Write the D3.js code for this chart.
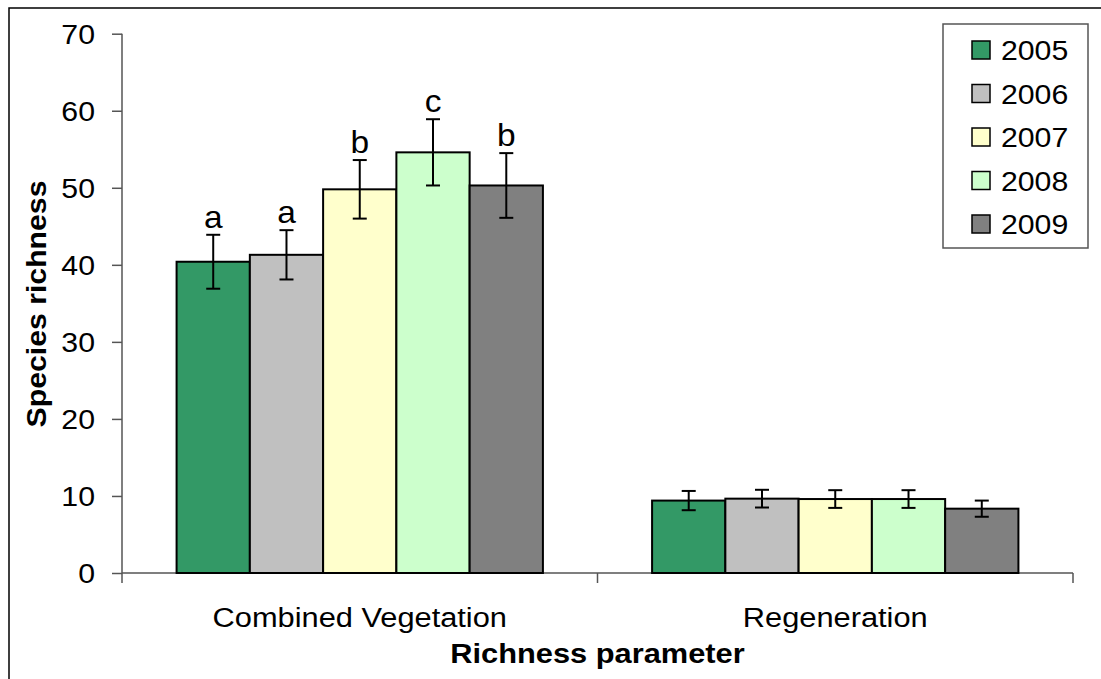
<!DOCTYPE html>
<html lang="en">
  <head>
    <meta charset="utf-8">
    <title>Species richness by year</title>
    <script type="text/javascript" src="https://cdn.jsdelivr.net/npm/d3@7"></script>
    <style type="text/css">
      body { margin: 0; background: #fff; }
      text { font-family: Arial, "Liberation Sans", sans-serif; fill: #000; }
    </style>
  </head>
  <body>
    <script type="text/javascript">

      //Width and height
      var w = 1101;
      var h = 679;

      //Data
      var categories = ["Combined Vegetation", "Regeneration"];
      var years = ["2005", "2006", "2007", "2008", "2009"];
      var colors = ["#339966", "#C0C0C0", "#FFFFCC", "#CCFFCC", "#808080"];
      var combinedMeans = [40.4, 41.3, 49.8, 54.6, 50.3];
      var combinedErr = [3.5, 3.2, 3.8, 4.3, 4.2];
      var regenMeans = [9.4, 9.65, 9.6, 9.6, 8.35];
      var regenErr = [1.25, 1.15, 1.15, 1.15, 1.05];
      var combinedLetters = ["a", "a", "b", "c", "b"];
      var yTicks = [0, 10, 20, 30, 40, 50, 60, 70];

      var margin = { left: 122, right: 1073, top: 33.7, bottom: 573 };
      var sx = 1.08; //text is a little wider than it is tall

      //flatten into rows for drawing
      var rows = [];
      categories.forEach(function(c, ci) {
        var means = ci === 0 ? combinedMeans : regenMeans;
        var errs = ci === 0 ? combinedErr : regenErr;
        years.forEach(function(y, yi) {
          rows.push({ cat: c, year: y, value: means[yi], err: errs[yi],
                      letter: ci === 0 ? combinedLetters[yi] : null });
        });
      });

      var svg = d3.select("body")
                  .append("svg")
                  .attr("width", w)
                  .attr("height", h);

      //outer frame
      svg.append("rect")
         .attr("x", 9).attr("y", 8)
         .attr("width", w + 20).attr("height", h + 20)
         .attr("fill", "none")
         .attr("stroke", "#000")
         .attr("stroke-width", 1.5);

      var x0 = d3.scaleBand()
                 .domain(categories)
                 .range([margin.left, margin.right]);

      var x1 = d3.scaleBand()
                 .domain(years)
                 .range([0, x0.bandwidth()])
                 .paddingInner(0)
                 .paddingOuter(0.745);

      var y = d3.scaleLinear()
                .domain([0, 70])
                .range([margin.bottom, margin.top]);

      var color = d3.scaleOrdinal().domain(years).range(colors);

      function place(sel, px, py, s) {
        sel.attr("x", 0).attr("y", 0)
           .attr("transform", "translate(" + px + "," + py + ") scale(" + (s || sx) + ",1)");
      }

      //y axis
      var yAxis = d3.axisLeft(y).tickValues(yTicks).tickSize(10).tickPadding(0);
      var gy = svg.append("g")
                  .attr("transform", "translate(" + margin.left + ",0)")
                  .call(yAxis);
      gy.select(".domain").attr("stroke", "#555").attr("stroke-width", 1.5)
        .attr("d", "M0," + margin.top + "V" + (margin.bottom + 10));
      gy.selectAll(".tick line").attr("stroke", "#555").attr("stroke-width", 1.5);
      gy.selectAll(".tick text")
        .style("font-size", "28px")
        .attr("dy", "0.35em")
        .attr("text-anchor", "end")
        .attr("x", 0)
        .attr("transform", "translate(-27,0) scale(" + sx + ",1)");

      //x axis line with category dividers
      svg.append("line")
         .attr("x1", margin.left).attr("x2", margin.right)
         .attr("y1", y(0)).attr("y2", y(0))
         .attr("stroke", "#555").attr("stroke-width", 1.5);

      var dividers = categories.map(function(c) { return x0(c) + x0.bandwidth(); });
      svg.selectAll("line.div")
         .data(dividers)
         .enter()
         .append("line")
         .attr("class", "div")
         .attr("x1", function(d) { return d; })
         .attr("x2", function(d) { return d; })
         .attr("y1", y(0))
         .attr("y2", y(0) + 10)
         .attr("stroke", "#555").attr("stroke-width", 1.5);

      //bars
      svg.selectAll("rect.bar")
         .data(rows)
         .enter()
         .append("rect")
         .attr("class", "bar")
         .attr("x", function(d) { return x0(d.cat) + x1(d.year); })
         .attr("y", function(d) { return y(d.value); })
         .attr("width", x1.bandwidth())
         .attr("height", function(d) { return y(0) - y(d.value); })
         .attr("fill", function(d) { return color(d.year); })
         .attr("stroke", "#000")
         .attr("stroke-width", 2);

      //error bars
      var eb = svg.selectAll("g.err")
                  .data(rows)
                  .enter()
                  .append("g")
                  .attr("class", "err")
                  .attr("transform", function(d) {
                    return "translate(" + (x0(d.cat) + x1(d.year) + x1.bandwidth() / 2) + ",0)";
                  });

      eb.append("line")
        .attr("y1", function(d) { return y(d.value + d.err); })
        .attr("y2", function(d) { return y(d.value - d.err); })
        .attr("stroke", "#000").attr("stroke-width", 2);
      eb.append("line")
        .attr("x1", -7).attr("x2", 7)
        .attr("y1", function(d) { return y(d.value + d.err); })
        .attr("y2", function(d) { return y(d.value + d.err); })
        .attr("stroke", "#000").attr("stroke-width", 2);
      eb.append("line")
        .attr("x1", -7).attr("x2", 7)
        .attr("y1", function(d) { return y(d.value - d.err); })
        .attr("y2", function(d) { return y(d.value - d.err); })
        .attr("stroke", "#000").attr("stroke-width", 2);

      //significance letters
      svg.selectAll("text.letter")
         .data(rows.filter(function(d) { return d.letter; }))
         .enter()
         .append("text")
         .attr("class", "letter")
         .attr("text-anchor", "middle")
         .style("font-size", "31px")
         .text(function(d) { return d.letter; })
         .each(function(d) {
           place(d3.select(this), x0(d.cat) + x1(d.year) + x1.bandwidth() / 2, y(d.value + d.err) - 7);
         });

      //category labels
      svg.selectAll("text.cat")
         .data(categories)
         .enter()
         .append("text")
         .attr("class", "cat")
         .attr("text-anchor", "middle")
         .style("font-size", "28px")
         .text(function(d) { return d; })
         .each(function(d) {
           place(d3.select(this), x0(d) + x0.bandwidth() / 2, 627, 1.1);
         });

      //axis titles
      svg.append("text")
         .attr("text-anchor", "middle")
         .style("font-size", "28px")
         .style("font-weight", "bold")
         .text("Richness parameter")
         .call(place, (margin.left + margin.right) / 2, 663, 1.1);

      svg.append("text")
         .attr("text-anchor", "middle")
         .style("font-size", "28px")
         .style("font-weight", "bold")
         .attr("transform", "translate(46,304) rotate(-90) scale(" + sx + ",1)")
         .text("Species richness");

      //legend
      var legend = svg.append("g");
      legend.append("rect")
            .attr("x", 943).attr("y", 24)
            .attr("width", 145).attr("height", 224)
            .attr("fill", "#fff")
            .attr("stroke", "#555")
            .attr("stroke-width", 1.5);

      var items = legend.selectAll("g.item")
                        .data(years)
                        .enter()
                        .append("g")
                        .attr("class", "item")
                        .attr("transform", function(d, i) { return "translate(0," + (50 + i * 43.5) + ")"; });

      items.append("rect")
           .attr("x", 972).attr("y", -9)
           .attr("width", 18).attr("height", 18)
           .attr("fill", function(d) { return color(d); })
           .attr("stroke", "#000")
           .attr("stroke-width", 1.5);

      items.append("text")
           .style("font-size", "28px")
           .text(function(d) { return d; })
           .each(function() { place(d3.select(this), 1001, 10); });

    </script>
  </body>
</html>
